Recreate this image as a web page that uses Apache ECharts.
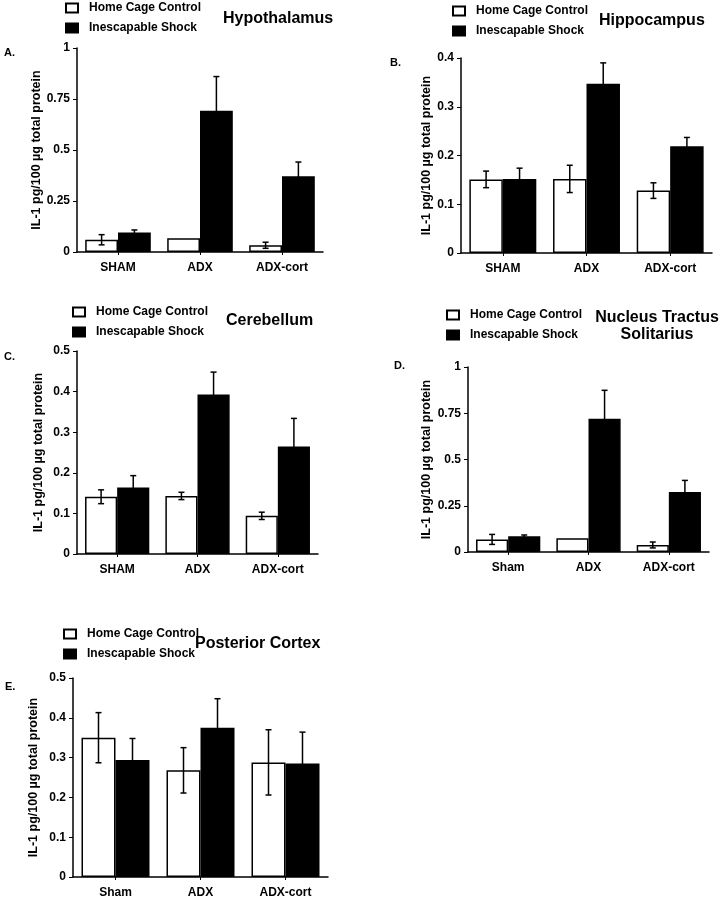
<!DOCTYPE html>
<html>
<head>
<meta charset="utf-8">
<script src="https://cdn.jsdelivr.net/npm/echarts@6/dist/echarts.min.js"></script>
<style>
  html, body { margin: 0; padding: 0; background: #fff; }
  #main { width: 728px; height: 899px; }
</style>
</head>
<body>
<div id="main"></div>
<script>
// categories
var catUpper = ["SHAM", "ADX", "ADX-cort"];
var catLower = ["Sham", "ADX", "ADX-cort"];

// A. Hypothalamus
var hypoCtrl = [0.06, 0.068, 0.033];
var hypoCtrlErr = [0.025, 0, 0.015];
var hypoShock = [0.095, 0.692, 0.371];
var hypoShockErr = [0.013, 0.168, 0.07];

// B. Hippocampus
var hippoCtrl = [0.151, 0.152, 0.128];
var hippoCtrlErr = [0.017, 0.028, 0.016];
var hippoShock = [0.152, 0.347, 0.219];
var hippoShockErr = [0.022, 0.043, 0.018];

// C. Cerebellum
var cereCtrl = [0.141, 0.143, 0.094];
var cereCtrlErr = [0.017, 0.009, 0.009];
var cereShock = [0.164, 0.393, 0.265];
var cereShockErr = [0.029, 0.055, 0.069];

// D. Nucleus Tractus Solitarius
var ntsCtrl = [0.068, 0.074, 0.038];
var ntsCtrlErr = [0.027, 0, 0.016];
var ntsShock = [0.085, 0.72, 0.324];
var ntsShockErr = [0.007, 0.154, 0.063];

// E. Posterior Cortex
var pcCtrl = [0.35, 0.268, 0.288];
var pcCtrlErr = [0.063, 0.057, 0.082];
var pcShock = [0.294, 0.375, 0.285];
var pcShockErr = [0.054, 0.073, 0.079];

var FONT = "Liberation Sans, Arial, Helvetica, sans-serif";
var yName = "IL-1 pg/100 \u00b5g total protein";

var panels = [
  { cats: catUpper, ctrl: hypoCtrl, ctrlErr: hypoCtrlErr, shock: hypoShock, shockErr: hypoShockErr,
    max: 1, interval: 0.25, grid: { left: 77, top: 48, width: 246, height: 204 }, nameGap: 32 },
  { cats: catUpper, ctrl: hippoCtrl, ctrlErr: hippoCtrlErr, shock: hippoShock, shockErr: hippoShockErr,
    max: 0.4, interval: 0.1, grid: { left: 461, top: 58, width: 251, height: 195 }, nameGap: 27 },
  { cats: catUpper, ctrl: cereCtrl, ctrlErr: cereCtrlErr, shock: cereShock, shockErr: cereShockErr,
    max: 0.5, interval: 0.1, grid: { left: 77, top: 351, width: 241, height: 203 }, nameGap: 32 },
  { cats: catLower, ctrl: ntsCtrl, ctrlErr: ntsCtrlErr, shock: ntsShock, shockErr: ntsShockErr,
    max: 1, interval: 0.25, grid: { left: 468, top: 367, width: 241, height: 185 }, nameGap: 35 },
  { cats: catLower, ctrl: pcCtrl, ctrlErr: pcCtrlErr, shock: pcShock, shockErr: pcShockErr,
    max: 0.5, interval: 0.1, grid: { left: 73, top: 678, width: 255, height: 200 }, nameGap: 33 }
];

function errData(vals, errs) {
  var out = [];
  for (var i = 0; i < vals.length; i++) {
    out.push([i, vals[i] - errs[i], vals[i] + errs[i], errs[i]]);
  }
  return out;
}

// side: -1 = left bar (control), 1 = right bar (shock)
function errRender(side) {
  return function (params, api) {
    if (api.value(3) <= 0) return null;
    var band = api.size([1, 0])[0];
    var x = api.coord([api.value(0), 0])[0] + side * band * 0.2;
    var lo = api.coord([api.value(0), api.value(1)])[1];
    var hi = api.coord([api.value(0), api.value(2)])[1];
    var cap = 3;
    var st = { stroke: "#000", lineWidth: 1.5 };
    return {
      type: "group",
      children: [
        { type: "line", shape: { x1: x, y1: lo, x2: x, y2: hi }, style: st },
        { type: "line", shape: { x1: x - cap, y1: hi, x2: x + cap, y2: hi }, style: st },
        { type: "line", shape: { x1: x - cap, y1: lo, x2: x + cap, y2: lo }, style: st }
      ]
    };
  };
}

var grids = [], xAxes = [], yAxes = [], series = [];
panels.forEach(function (p, k) {
  grids.push(p.grid);
  xAxes.push({
    type: "category", gridIndex: k, data: p.cats,
    axisLine: { lineStyle: { color: "#000", width: 1.5 } },
    axisTick: { show: true, alignWithLabel: true, length: 3, lineStyle: { color: "#000" } },
    axisLabel: { color: "#000", fontFamily: FONT, fontWeight: "bold", fontSize: 12, margin: 10, interval: 0 }
  });
  yAxes.push({
    type: "value", gridIndex: k, min: 0, max: p.max, interval: p.interval,
    name: yName, nameLocation: "middle", nameGap: p.nameGap, nameRotate: 90,
    nameTextStyle: { color: "#000", fontFamily: FONT, fontWeight: "bold", fontSize: 12.5 },
    axisLine: { show: true, lineStyle: { color: "#000", width: 1.5 } },
    axisTick: { show: true, length: 4, lineStyle: { color: "#000" } },
    axisLabel: { color: "#000", fontFamily: FONT, fontWeight: "bold", fontSize: 12, margin: 7 },
    splitLine: { show: false }
  });
  series.push({
    name: "Home Cage Control", type: "bar", xAxisIndex: k, yAxisIndex: k,
    barGap: 0, barCategoryGap: "20%", data: p.ctrl,
    itemStyle: { color: "#fff", borderColor: "#000", borderWidth: 1.5 }
  });
  series.push({
    name: "Inescapable Shock", type: "bar", xAxisIndex: k, yAxisIndex: k,
    barGap: 0, barCategoryGap: "20%", data: p.shock,
    itemStyle: { color: "#000", borderColor: "#000", borderWidth: 1.5 }
  });
  series.push({
    type: "custom", xAxisIndex: k, yAxisIndex: k, z: 5,
    renderItem: errRender(-1), data: errData(p.ctrl, p.ctrlErr), silent: true
  });
  series.push({
    type: "custom", xAxisIndex: k, yAxisIndex: k, z: 5,
    renderItem: errRender(1), data: errData(p.shock, p.shockErr), silent: true
  });
});

var legendPos = [
  { left: 60, top: -3 },
  { left: 447, top: 0 },
  { left: 67, top: 301 },
  { left: 441, top: 304 },
  { left: 58, top: 623 }
];
var legends = legendPos.map(function (pos) {
  return {
    left: pos.left, top: pos.top, orient: "vertical",
    data: ["Home Cage Control", "Inescapable Shock"],
    icon: "rect", itemWidth: 12, itemHeight: 9, itemGap: 8,
    selectedMode: false,
    textStyle: { color: "#000", fontFamily: FONT, fontWeight: "bold", fontSize: 12, padding: [0, 0, 0, 6] }
  };
});

var titleStyle = { color: "#000", fontFamily: FONT, fontWeight: "bold", fontSize: 16, lineHeight: 17 };
var letterStyle = { color: "#000", fontFamily: FONT, fontWeight: "bold", fontSize: 11 };
var titles = [
  { text: "Hypothalamus", left: 223, top: 10, textStyle: titleStyle, padding: 0 },
  { text: "Hippocampus", left: 599, top: 12, textStyle: titleStyle, padding: 0 },
  { text: "Cerebellum", left: 226, top: 312, textStyle: titleStyle, padding: 0 },
  { text: "Nucleus Tractus\nSolitarius", left: 657, top: 309, textAlign: "center", textStyle: titleStyle, padding: 0 },
  { text: "Posterior Cortex", left: 195, top: 635, textStyle: titleStyle, padding: 0 },
  { text: "A.", left: 4, top: 47, textStyle: letterStyle, padding: 0 },
  { text: "B.", left: 390, top: 57, textStyle: letterStyle, padding: 0 },
  { text: "C.", left: 4, top: 351, textStyle: letterStyle, padding: 0 },
  { text: "D.", left: 394, top: 360, textStyle: letterStyle, padding: 0 },
  { text: "E.", left: 5, top: 681, textStyle: letterStyle, padding: 0 }
];

var myChart = echarts.init(document.getElementById("main"), null, { renderer: "canvas" });
var option = {
  backgroundColor: "#fff",
  animation: false,
  title: titles,
  legend: legends,
  grid: grids,
  xAxis: xAxes,
  yAxis: yAxes,
  series: series
};
myChart.setOption(option);
</script>
</body>
</html>
